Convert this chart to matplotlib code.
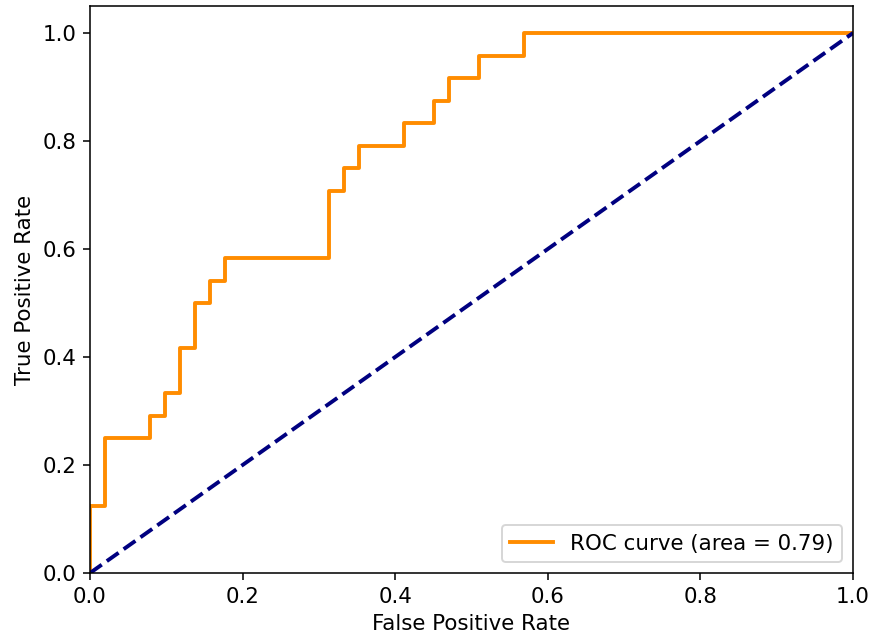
import matplotlib
matplotlib.use("Agg")
import matplotlib.pyplot as plt
import numpy as np

# ROC steps: 51 negatives, 24 positives
fpr_counts = [0, 0, 1, 1, 4, 4, 5, 5, 6, 6, 7, 7, 8, 8, 9, 9, 16, 16, 17, 17,
              18, 18, 21, 21, 23, 23, 24, 24, 26, 26, 29, 29, 51]
tpr_counts = [0, 3, 3, 6, 6, 7, 7, 8, 8, 10, 10, 12, 12, 13, 13, 14, 14, 17, 17, 18,
              18, 19, 19, 20, 20, 21, 21, 22, 22, 23, 23, 24, 24]
n_neg = 51
n_pos = 24
roc_auc = 0.79

fpr = np.array(fpr_counts) / n_neg
tpr = np.array(tpr_counts) / n_pos

plt.rcParams['font.size'] = 11
dpi = 140
fig = plt.figure(figsize=(869 / dpi, 641 / dpi), dpi=dpi)
ax = fig.add_axes([90 / 869, 68 / 641, 763 / 869, 567 / 641])

ax.plot(fpr, tpr, color='darkorange', lw=2,
        label='ROC curve (area = %0.2f)' % roc_auc)
ax.plot([0, 1], [0, 1], color='navy', lw=2, linestyle='--')
ax.set_xlim([0.0, 1.0])
ax.set_ylim([0.0, 1.05])
ax.set_xlabel('False Positive Rate')
ax.set_ylabel('True Positive Rate')
ax.legend(loc='lower right')

fig.savefig('out.png', dpi=dpi)
